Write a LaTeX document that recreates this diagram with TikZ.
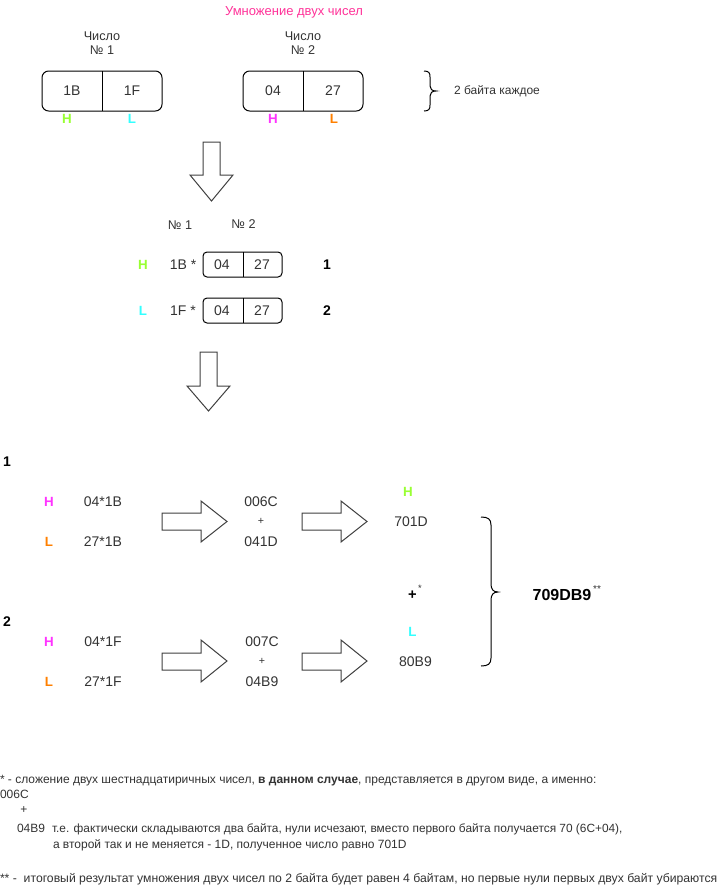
\documentclass[tikz,border=0pt]{standalone}
\usepackage{fontspec}
\setmainfont{Liberation Sans}
\definecolor{txt}{HTML}{333333}
\definecolor{hgreen}{HTML}{99FF33}
\definecolor{lcyan}{HTML}{33FFFF}
\definecolor{hmag}{HTML}{FF33FF}
\definecolor{lorange}{HTML}{FF8000}
\definecolor{titlepink}{HTML}{FF3399}
\definecolor{arrowline}{HTML}{404040}
\begin{document}
\begin{tikzpicture}[x=0.75pt,y=-0.75pt,
  every node/.style={inner sep=0pt,outer sep=0pt},
  body/.style={font=\fontsize{10.5}{12}\selectfont, text=txt, anchor=mid},
  small/.style={font=\fontsize{9.5}{10.5}\selectfont, text=txt, anchor=mid, align=center},
  lbl/.style={font=\fontsize{10}{12}\selectfont\bfseries, anchor=mid},
  bnum/.style={font=\fontsize{10.5}{12}\selectfont\bfseries, text=black, anchor=mid},
  tiny/.style={font=\fontsize{6.5}{7}\selectfont, text=txt, anchor=mid},
  note/.style={font=\fontsize{9}{11}\selectfont, text=txt, anchor=mid west},
  numbox/.style={draw=black, line width=0.75pt, rounded corners=5pt, minimum width=90pt, minimum height=30pt},
  smallbox/.style={draw=black, line width=0.75pt, rounded corners=3pt, minimum width=59.25pt, minimum height=18.75pt},
  blk/.style={draw=arrowline, line width=0.75pt, fill=white, line join=miter},
  brc/.style={draw=black, line width=0.75pt}
]
\useasboundingbox[fill=white] (0,0) rectangle (723,893);

% title
\node[font=\fontsize{9.75}{12}\selectfont, text=titlepink, anchor=mid] (title) at (294,12) {Умножение двух чисел};

% numbers
\node[small] (cap1) at (102,51) {Число\\№ 1};
\node[small] (cap2) at (303,51) {Число\\№ 2};
\node[numbox] (box1) at (102,91) {};
\node[numbox] (box2) at (303,91) {};
\draw[line width=0.75pt] (box1.north) -- (box1.south);
\draw[line width=0.75pt] (box2.north) -- (box2.south);
\node[body] (b1h) at (72,92) {1B};
\node[body] (b1l) at (132,92) {1F};
\node[body] (b2h) at (273,92) {04};
\node[body] (b2l) at (333,92) {27};
\node[lbl, text=hgreen] (h1) at (67,120) {H};
\node[lbl, text=lcyan] (l1) at (132,120) {L};
\node[lbl, text=hmag] (h2) at (273,120) {H};
\node[lbl, text=lorange] (l2) at (334,120) {L};

% brace 1
\draw[brc] (424,71) .. controls (429,71) and (430,73) .. (430,77) -- (430,86)
  .. controls (430,89) and (432,91) .. (436,91)
  .. controls (432,91) and (430,93) .. (430,96) -- (430,105)
  .. controls (430,109) and (429,111) .. (424,111);
\node[note] (each) at (454,91) {2 байта каждое};

% down arrow 1
\draw[blk] (203,142) -- (220,142) -- (220,175) -- (233,175) -- (211.5,201) -- (190,175) -- (203,175) -- cycle;

% second stage
\node[small] (no1) at (180,226) {№ 1};
\node[small] (no2) at (243.5,225) {№ 2};
\node[lbl, text=hgreen] (rh) at (143,266) {H};
\node[body] (m1) at (183,266) {1B *};
\node[smallbox] (sb1) at (242.5,264.5) {};
\draw[line width=0.75pt] (243,252) -- (243,277);
\node[body] (s1a) at (222,266) {04};
\node[body] (s1b) at (262,266) {27};
\node[bnum] (k1) at (327,266) {1};
\node[lbl, text=lcyan] (rl) at (143,312) {L};
\node[body] (m2) at (183,312) {1F *};
\node[smallbox] (sb2) at (242.5,310.5) {};
\draw[line width=0.75pt] (243,298) -- (243,323);
\node[body] (s2a) at (222,312) {04};
\node[body] (s2b) at (262,312) {27};
\node[bnum] (k2) at (327,312) {2};

% down arrow 2
\draw[blk] (200,352) -- (217,352) -- (217,386) -- (230,386) -- (208.5,411) -- (187,386) -- (200,386) -- cycle;

% part 1
\node[bnum, anchor=mid west] (p1) at (3,463) {1};
\node[lbl, text=hmag] (p1h) at (49,503) {H};
\node[body] (p1a) at (103,503) {04*1B};
\node[lbl, text=lorange] (p1l) at (49,543) {L};
\node[body] (p1b) at (103,543) {27*1B};
\draw[blk] (162,513) -- (201,513) -- (201,501) -- (227,521.5) -- (201,542) -- (201,530) -- (162,530) -- cycle;
\node[body] (r1a) at (261,503) {006C};
\node[tiny, font=\fontsize{8}{9}\selectfont] (r1p) at (261,521) {+};
\node[body] (r1b) at (261,543) {041D};
\draw[blk] (302,513) -- (341,513) -- (341,501) -- (367,521.5) -- (341,542) -- (341,530) -- (302,530) -- cycle;

% part 2
\node[bnum, anchor=mid west] (p2) at (3,623) {2};
\node[lbl, text=hmag] (p2h) at (49,643) {H};
\node[body] (p2a) at (103,643) {04*1F};
\node[lbl, text=lorange] (p2l) at (49,683) {L};
\node[body] (p2b) at (103,683) {27*1F};
\draw[blk] (162,653) -- (201,653) -- (201,640) -- (227,661) -- (201,682) -- (201,670) -- (162,670) -- cycle;
\node[body] (r2a) at (262,643) {007C};
\node[tiny, font=\fontsize{8}{9}\selectfont] (r2p) at (262,661) {+};
\node[body] (r2b) at (262,683) {04B9};
\draw[blk] (302,653) -- (341,653) -- (341,640) -- (367,661) -- (341,682) -- (341,670) -- (302,670) -- cycle;

% results
\node[lbl, text=hgreen] (rsh) at (408,493) {H};
\node[body] (rs1) at (411,523) {701D};
\node[bnum, font=\fontsize{11}{12}\selectfont\bfseries] (plus) at (412.5,596) {+};
\node[tiny, font=\fontsize{7}{8}\selectfont] (pst) at (420,588) {*};
\node[lbl, text=lcyan] (rsl) at (412.5,633) {L};
\node[body] (rs2) at (415.5,663) {80B9};

% brace 2
\draw[brc] (481,517) .. controls (488,517) and (491,519) .. (491,525) -- (491,584)
  .. controls (491,589) and (493,592) .. (498,592)
  .. controls (493,592) and (491,595) .. (491,600) -- (491,658)
  .. controls (491,664) and (488,666) .. (481,666);
\node[bnum, font=\fontsize{12}{13}\selectfont\bfseries] (final) at (562,597) {709DB9};
\node[tiny, font=\fontsize{7.5}{8}\selectfont] (fst) at (597,589) {**};

% footnotes
\node[note] (f1) at (0,780) {* - сложение двух шестнадцатиричных чисел, \textbf{в данном случае}, представляется в другом виде, а именно:};
\node[note] (f2) at (0,795) {006C};
\node[note, anchor=mid] (f3) at (24,810) {+};
\node[note] (f4) at (17,829) {04B9};
\node[note, font=\fontsize{8.9}{10}\selectfont] (f5) at (52,829) {т.е. фактически складываются два байта, нули исчезают, вместо первого байта получается 70 (6С+04),};
\node[note] (f6) at (53,845) {а второй так и не меняется - 1D, полученное число равно 701D};
\node[note, font=\fontsize{9.15}{10}\selectfont] (f7) at (0,879) {** -\ \ итоговый результат умножения двух чисел по 2 байта будет равен 4 байтам, но первые нули первых двух байт убираются};
\end{tikzpicture}
\end{document}
